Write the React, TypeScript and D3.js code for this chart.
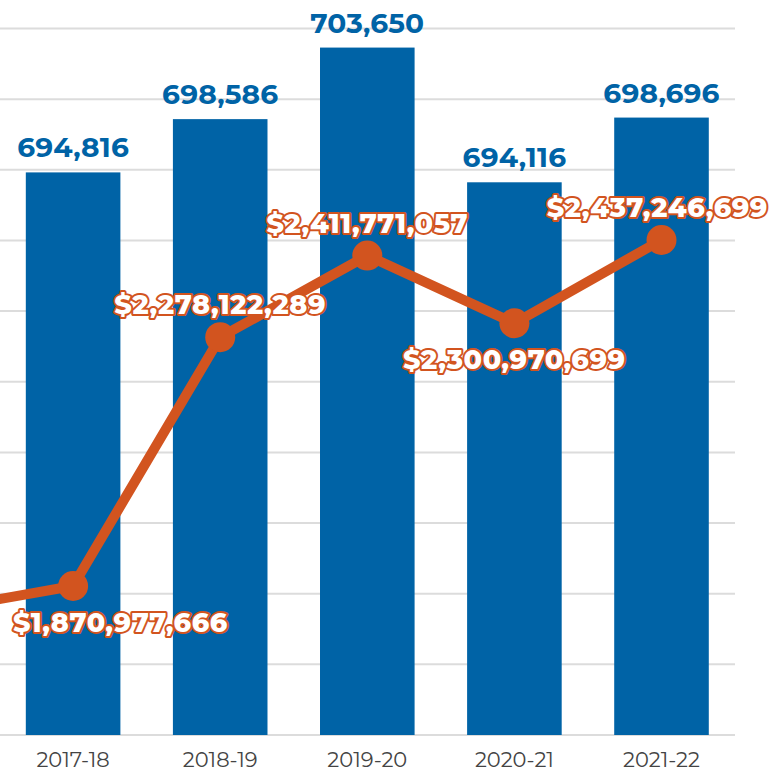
import React, { useEffect, useRef } from "react";
import * as d3 from "d3";

const categories = ["2016-17", "2017-18", "2018-19", "2019-20", "2020-21", "2021-22"];
const enrollment: (number | null)[] = [null, 694816, 698586, 703650, 694116, 698696];
const funding = [1828000000, 1870977666, 2278122289, 2411771057, 2300970699, 2437246699];
const labelSide = ["above", "below", "above", "above", "below", "above"];
const barTicks = d3.range(655000, 705001, 5000);

const W = 769;
const H = 773;
const BLUE = "#0063a6";
const ORANGE = "#d2541f";
const FONT = "Montserrat, 'Open Sans', sans-serif";

export default function App() {
  const ref = useRef<SVGSVGElement>(null);

  useEffect(() => {
    const svg = d3.select(ref.current);
    svg.selectAll("*").remove();

    const x = d3.scalePoint<string>().domain(categories).range([-74, 661.5]);
    const step = x.step();
    const bw = step * 0.643;
    const yBar = d3.scaleLinear().domain([655000, 705000]).range([735, 28.5]);
    const yLine = d3.scaleLinear().domain([1627.1e6, 2783.4e6]).range([735, 28.5]);

    // gridlines
    svg
      .append("g")
      .selectAll("line")
      .data(barTicks)
      .join("line")
      .attr("x1", 0)
      .attr("x2", 735)
      .attr("y1", (d) => yBar(d))
      .attr("y2", (d) => yBar(d))
      .attr("stroke", "#dcdcdc")
      .attr("stroke-width", 2);

    const barData = categories
      .map((c, i) => ({ c, v: enrollment[i] }))
      .filter((d) => d.v !== null) as { c: string; v: number }[];

    // bars
    svg
      .append("g")
      .selectAll("rect")
      .data(barData)
      .join("rect")
      .attr("x", (d) => (x(d.c) as number) - bw / 2)
      .attr("width", bw)
      .attr("y", (d) => yBar(d.v))
      .attr("height", (d) => 735 - yBar(d.v))
      .attr("fill", BLUE);

    // bar labels
    svg
      .append("g")
      .selectAll("text")
      .data(barData)
      .join("text")
      .attr("x", (d) => x(d.c) as number)
      .attr("y", (d) => yBar(d.v) - 15)
      .attr("text-anchor", "middle")
      .attr("font-family", FONT)
      .attr("font-weight", 700)
      .attr("font-size", 28)
      .attr("letter-spacing", 0.2)
      .attr("fill", BLUE)
      .text((d) => d3.format(",")(d.v));

    // axis labels (only categories inside the visible plot)
    svg
      .append("g")
      .selectAll("text")
      .data(barData)
      .join("text")
      .attr("x", (d) => x(d.c) as number)
      .attr("y", 767)
      .attr("text-anchor", "middle")
      .attr("font-family", FONT)
      .attr("font-size", 21)
      .attr("fill", "#444")
      .text((d) => d.c);

    // line
    const pts = categories.map((c, i) => ({ c, v: funding[i], side: labelSide[i], i }));
    const line = d3
      .line<{ c: string; v: number }>()
      .x((d) => x(d.c) as number)
      .y((d) => yLine(d.v));
    svg
      .append("path")
      .datum(pts)
      .attr("d", line)
      .attr("fill", "none")
      .attr("stroke", ORANGE)
      .attr("stroke-width", 10)
      .attr("stroke-linejoin", "round");

    svg
      .append("g")
      .selectAll("circle")
      .data(pts.slice(1))
      .join("circle")
      .attr("cx", (d) => x(d.c) as number)
      .attr("cy", (d) => yLine(d.v))
      .attr("r", 15)
      .attr("fill", ORANGE);

    // line labels
    const lbl = svg
      .append("g")
      .selectAll("text")
      .data(pts.slice(1))
      .join("text")
      .attr("x", (d) => x(d.c) as number)
      .attr("y", (d) => yLine(d.v) + (d.side === "above" ? -23 : 46))
      .attr("text-anchor", "middle")
      .attr("font-family", FONT)
      .attr("font-weight", 800)
      .attr("font-size", 27)
      .attr("letter-spacing", 0.6)
      .attr("fill", "#fff")
      .attr("stroke", ORANGE)
      .attr("stroke-width", 4)
      .attr("stroke-linejoin", "round")
      .attr("paint-order", "stroke")
      .text((d) => "$" + d3.format(",")(d.v));

    // keep labels inside the plot
    lbl.each(function (d) {
      const el = this as SVGTextElement;
      const w = el.getBBox().width;
      const cx = x(d.c) as number;
      const minC = 13 + w / 2;
      const maxC = W - 1 - w / 2;
      el.setAttribute("x", String(Math.min(Math.max(cx, minC), maxC)));
    });
  }, []);

  return (
    <div style={{ position: "absolute", left: 0, top: 0 }}>
      <svg ref={ref} width={W} height={H} style={{ display: "block" }} />
    </div>
  );
}
